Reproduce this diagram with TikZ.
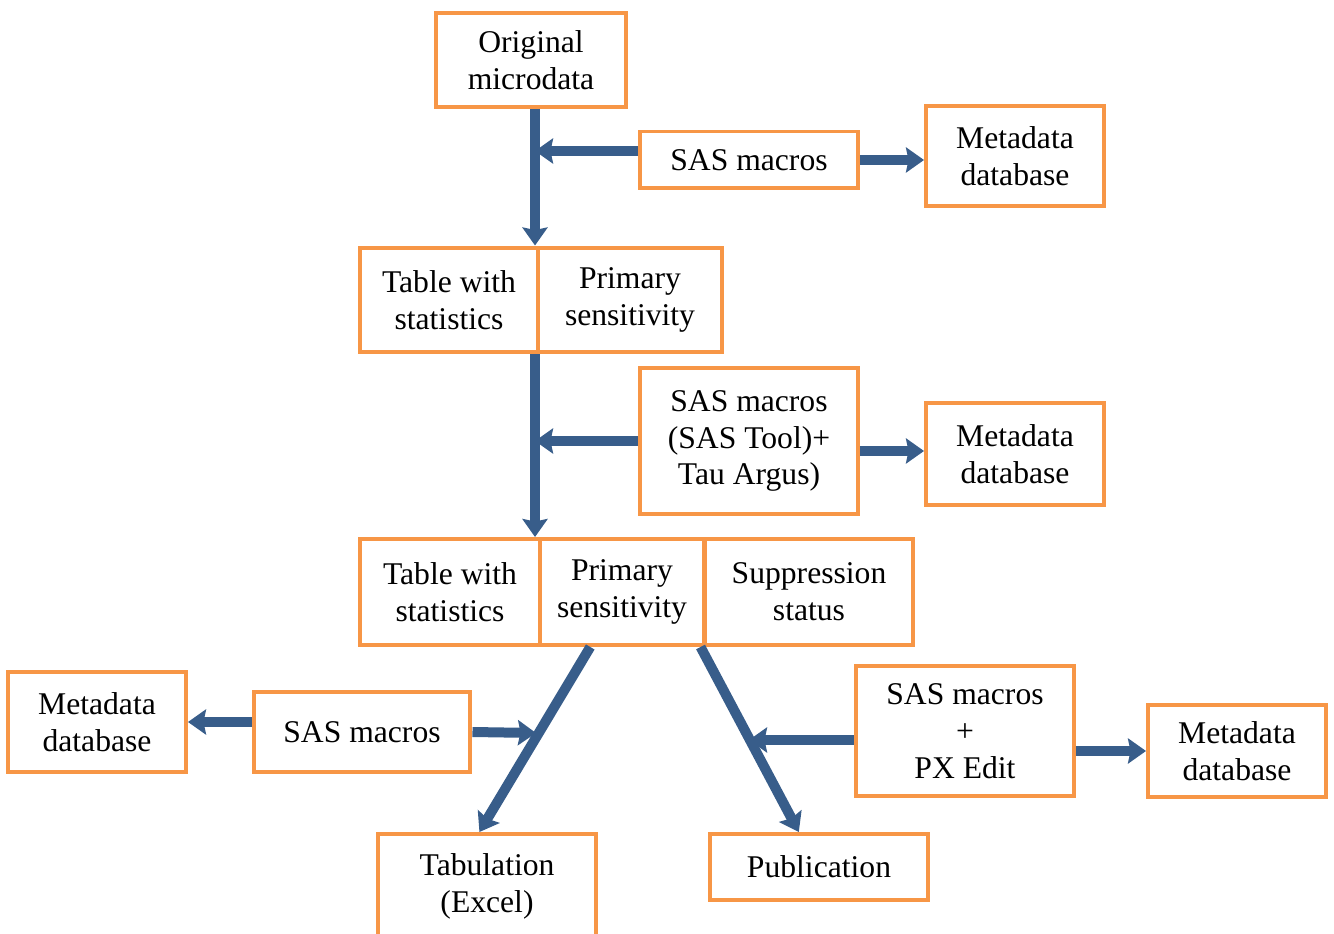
\documentclass[tikz,border=0pt]{standalone}
\usepackage{fontspec}
\setmainfont{Liberation Serif}
\usetikzlibrary{arrows.meta}
\definecolor{boxorange}{RGB}{247,150,70}
\definecolor{flowblue}{RGB}{56,93,138}
\tikzset{
  box/.style={draw=boxorange, line width=0.8mm, fill=white, align=center,
    inner sep=1pt, font=\fontsize{18}{21}\selectfont},
  flow/.style={draw=flowblue, line width=2mm,
    -{Stealth[length=3.6mm, width=5mm, inset=0.5mm]}},
}
\begin{document}
\begin{tikzpicture}
    \def\x{0.02}
    \def\y{-0.02}
    \useasboundingbox (0,0) rectangle (1334*\x, 934*\y);
    \node[box, minimum width=3.8cm, minimum height=1.88cm] (A0_1) at (531*\x, 60*\y) {Original\\microdata};
    \node[box, minimum width=4.36cm, minimum height=1.14cm] (A1_2) at (749*\x, 160*\y) {SAS macros};
    \node[box, minimum width=3.56cm, minimum height=2cm] (A1_3) at (1015*\x, 156*\y) {Metadata\\database};
    \node[box, minimum width=3.56cm, minimum height=2.1cm] (A2_0) at (449*\x, 300*\y) {Table with\\statistics};
    \node[box, minimum width=3.68cm, minimum height=2.1cm] (A2_1) at (630*\x, 300*\y) {Primary\\sensitivity};
    \node[box, minimum width=4.36cm, minimum height=2.94cm] (A3_2) at (749*\x, 441*\y) {SAS macros\\(SAS Tool)+\\Tau Argus)};
    \node[box, minimum width=3.56cm, minimum height=2.06cm] (A3_3) at (1015*\x, 454*\y) {Metadata\\database};
    \node[box, minimum width=3.6cm, minimum height=2.12cm] (A4_0) at (450*\x, 592*\y) {Table with\\statistics};
    \node[box, minimum width=3.3cm, minimum height=2.12cm] (A4_1) at (622*\x, 592*\y) {Primary\\sensitivity};
    \node[box, minimum width=4.18cm, minimum height=2.12cm] (A4_2) at (809*\x, 592*\y) {Suppression\\status};
    \node[box, minimum width=3.56cm, minimum height=2cm] (A5_0) at (97*\x, 722*\y) {Metadata\\database};
    \node[box, minimum width=4.34cm, minimum height=1.6cm] (A5_1) at (362*\x, 732*\y) {SAS macros};
    \node[box, minimum width=4.36cm, minimum height=2.62cm] (A5_3) at (965*\x, 731*\y) {SAS macros\\+\\PX Edit};
    \node[box, minimum width=3.56cm, minimum height=1.84cm] (A5_4) at (1237*\x, 751*\y) {Metadata\\database};
    \node[box, minimum width=4.36cm, minimum height=2.08cm] (A6_0) at (487*\x, 886*\y) {Tabulation\\(Excel)};
    \node[box, minimum width=4.36cm, minimum height=1.32cm] (A6_1) at (819*\x, 867*\y) {Publication};
    \coordinate (J2_0) at (535*\x, 300*\y);
    \coordinate (J5_1) at (536*\x, 733*\y);
    \coordinate (J5_3) at (749*\x, 740*\y);
    \path (A0_1.south -| J2_0) edge [flow] (A2_0.north -| J2_0);
    \path ([yshift=0.18cm]A1_2.west) edge [flow] ([yshift=0.18cm]A1_2.west -| J2_0);
    \path (A1_2.east) edge [flow] (A1_2.east -| A1_3.west);
    \path (A2_0.south -| J2_0) edge [flow] (A4_0.north -| J2_0);
    \path (A3_2.west) edge [flow] (A3_2.west -| J2_0);
    \path ([yshift=-0.2cm]A3_2.east) edge [flow] ([yshift=-0.2cm]A3_2.east -| A3_3.west);
    \path (A4_1.240) edge [flow] (A6_0.98);
    \path (A4_1.-35) edge [flow] (A6_1.120);
    \path (A5_1.east) edge [flow] (J5_1);
    \path (A5_1.west |- A5_0.east) edge [flow] (A5_0.east);
    \path (A5_3.west |- J5_3) edge [flow] (J5_3);
    \path (A5_3.east |- A5_4.west) edge [flow] (A5_4.west);
  \end{tikzpicture}
\end{document}
